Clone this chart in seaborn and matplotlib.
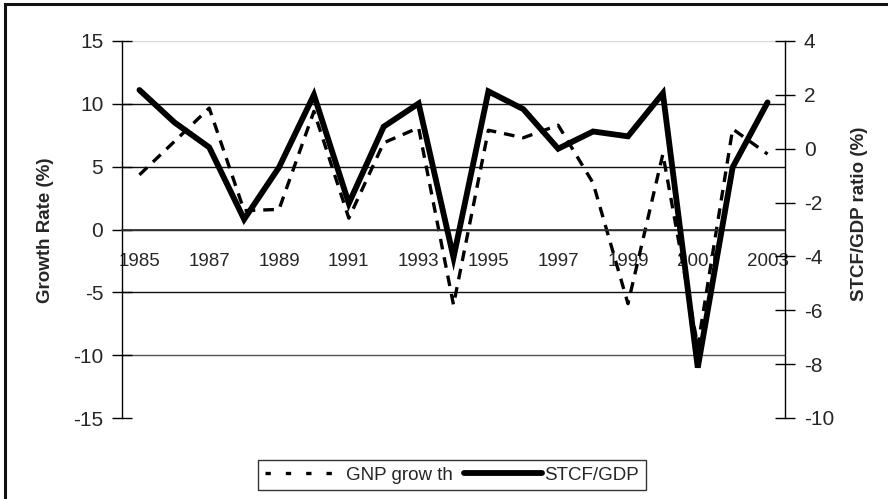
import matplotlib
matplotlib.use("Agg")
import matplotlib.pyplot as plt
import seaborn as sns
import pandas as pd
from matplotlib.lines import Line2D
from matplotlib.patches import Rectangle

years = list(range(1985, 2004))
gnp_growth = [4.35, 7.0, 9.66, 1.5, 1.6, 9.4, 0.9, 6.9, 8.1, -6.0, 7.9, 7.3, 8.3, 3.7, -5.9, 6.0, -9.3, 8.0, 6.0]
stcf_gdp = [2.18, 0.98, 0.05, -2.62, -0.69, 2.0, -2.03, 0.82, 1.68, -4.04, 2.13, 1.47, 0.0, 0.64, 0.46, 2.06, -8.13, -0.69, 1.72]
left_ticks = [-15, -10, -5, 0, 5, 10, 15]
right_ticks = [-10, -8, -6, -4, -2, 0, 2, 4]
year_labels = [str(y) for y in range(1985, 2004, 2)]

df = pd.DataFrame({"year": years, "gnp": gnp_growth, "stcf": stcf_gdp})

sns.set_theme(style="white")
plt.rcParams["font.family"] = ["Liberation Sans", "DejaVu Sans"]
plt.rcParams["axes.unicode_minus"] = False

fig = plt.figure(figsize=(8.88, 4.99), dpi=100)
ax = fig.add_axes([122/888, 1-418/499, (785-122)/888, (418-41)/499])
ax2 = ax.twinx()

sns.lineplot(data=df, x="year", y="gnp", ax=ax, color="black", linewidth=2.4)
ax.lines[0].set_dashes([3.2, 2.4])
sns.lineplot(data=df, x="year", y="stcf", ax=ax2, color="black", linewidth=4.2)
ax2.lines[0].set_solid_capstyle("round")
ax2.lines[0].set_solid_joinstyle("miter")

ax.set_xlim(1984.5, 2003.5)
ax.set_ylim(-15, 15)
ax2.set_ylim(-10, 4)

yfs = 15
xfs = 13.5
ax.set_yticks(left_ticks)
ax.set_yticklabels([str(t) for t in left_ticks], fontsize=yfs)
ax2.set_yticks(right_ticks)
ax2.set_yticklabels([str(t) for t in right_ticks], fontsize=yfs)
ax.tick_params(axis="y", direction="inout", length=15, width=1, color="black", pad=6)
ax2.tick_params(axis="y", direction="inout", length=15, width=1, color="black", pad=6)

# gridlines
ax.grid(True, axis="y", color="#111111", linewidth=1)
ax.grid(False, axis="x")
for t, gl in zip(left_ticks, ax.get_ygridlines()):
    if t == 15:
        gl.set_color("#d8d8d8")
    elif t == -15:
        gl.set_visible(False)
    elif t == -10:
        gl.set_color("#555555")
ax.set_axisbelow(True)

# x axis through zero
ax.spines["bottom"].set_position(("data", 0))
ax.spines["bottom"].set_color("#333333")
ax.set_xticks(list(range(1985, 2004, 2)))
ax.set_xticklabels(year_labels, fontsize=xfs)
ax.set_xticks([y + 0.5 for y in range(1984, 2004)], minor=True)
ax.tick_params(axis="x", which="major", length=0, pad=17)
ax.tick_params(axis="x", which="minor", direction="inout", length=10, width=1, color="black")
for side in ["top", "right"]:
    ax.spines[side].set_visible(False)
for side in ["top", "left", "bottom"]:
    ax2.spines[side].set_visible(False)
ax.spines["left"].set_color("black")
ax2.spines["right"].set_color("black")
ax.spines["left"].set_linewidth(1)
ax2.spines["right"].set_linewidth(1)
ax.set_xlabel("")
ax.set_ylabel("")
ax2.set_ylabel("")

fig.text(45/888, 1-230/499, "Growth Rate (%)", rotation=90, ha="center", va="center",
         fontsize=13.5, fontweight="bold")
fig.text(859/888, 1-214/499, "STCF/GDP ratio (%)", rotation=90, ha="center", va="center",
         fontsize=13.5, fontweight="bold")

handles = [Line2D([0], [0], color="black", linewidth=2.4, dashes=[1.6, 4.5]),
           Line2D([0], [0], color="black", linewidth=4.2, solid_capstyle="round")]
leg = fig.legend(handles, ["GNP grow th", "STCF/GDP"], loc="center",
                 bbox_to_anchor=(452/888, 1-475/499), ncol=2, fontsize=13.5,
                 frameon=True, fancybox=False, edgecolor="black", handlelength=4.2,
                 handletextpad=0.1, columnspacing=0.6, borderpad=0.35, borderaxespad=0)
leg.get_frame().set_linewidth(1)

# outer chart border (top and left visible)
fig.add_artist(Rectangle((5/888, -0.05), 1.05, 1.05 - 4/499, transform=fig.transFigure,
                         fill=False, edgecolor="#111111", linewidth=2.2))

fig.savefig("out.png", dpi=100)
